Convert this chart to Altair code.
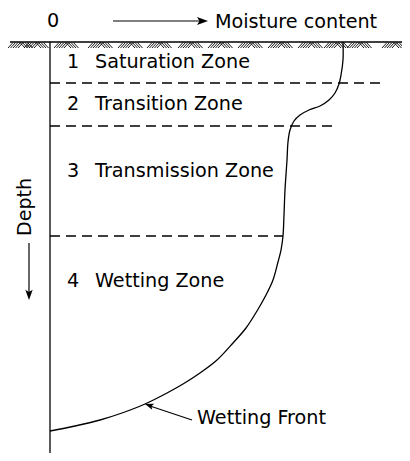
import altair as alt
import pandas as pd

# ---- values (diagram units: moisture offset from the depth axis,
#      depth below the ground surface) ----
curve_moisture = [293, 293, 291, 289, 285, 279, 270, 259, 250, 244, 240, 238, 237, 235, 234, 233,
                  231, 228, 223, 216, 207, 196, 183, 167, 150, 133, 117, 95, 72, 50, 25, 0]
curve_depth = [0, 18, 33, 42, 51, 58, 64, 68, 73, 79, 88, 100, 118, 148, 173, 194,
               208, 220, 238, 253, 269, 286, 301, 318, 331, 342, 351, 362, 371, 378, 384, 389]

zone_numbers = ["1", "2", "3", "4"]
zone_names = ["Saturation Zone", "Transition Zone", "Transmission Zone", "Wetting Zone"]
zone_label_depth = [26, 68, 135, 245]
zone_boundary_depth = [41, 84, 194]
zone_boundary_end = [335, 285, 233]

hatch_starts = [-42, -26, 4, 38, 68, 97, 128, 158, 188, 218, 248, 274, 297, 332]

X_DOM = [-42, 352]
Y_DOM = [-34, 411]
FONT = "DejaVu Sans"

xs = alt.Scale(domain=X_DOM)
ys = alt.Scale(domain=Y_DOM, reverse=True)


def X(f="x"):
    return alt.X(f"{f}:Q", scale=xs, axis=None)


def Y(f="y"):
    return alt.Y(f"{f}:Q", scale=ys, axis=None)


# ground surface and depth axis
frame_df = pd.DataFrame([
    {"x": -40, "x2": 352, "y": 0, "y2": 0, "w": 1.6},
    {"x": 0, "x2": 0, "y": 0, "y2": 411, "w": 1.3},
])
frame = alt.Chart(frame_df).mark_rule(color="black").encode(
    x=X(), x2="x2:Q", y=Y(), y2="y2:Q",
    strokeWidth=alt.StrokeWidth("w:Q", scale=None))

# ground hatching
hatch_rows = []
for s in hatch_starts:
    for i in range(5):
        o = s + i * 2.5
        hatch_rows.append({"x": o, "x2": o + 5, "y": 6, "y2": 0.5})
    for i in range(4):
        o = s + 12 + i * 2.5
        hatch_rows.append({"x": o, "x2": o + 5, "y": 0.5, "y2": 6})
hatch = alt.Chart(pd.DataFrame(hatch_rows)).mark_rule(color="black", strokeWidth=0.9).encode(
    x=X(), x2="x2:Q", y=Y(), y2="y2:Q")

# zone boundaries
bound_df = pd.DataFrame({"y": zone_boundary_depth, "x": [0] * 3, "x2": zone_boundary_end})
bounds = alt.Chart(bound_df).mark_rule(color="black", strokeWidth=1.3, strokeDash=[10, 6]).encode(
    x=X(), x2="x2:Q", y=Y())

# moisture profile curve
curve_df = pd.DataFrame({"x": curve_moisture, "y": curve_depth, "i": range(len(curve_depth))})
curve = alt.Chart(curve_df).mark_line(color="black", strokeWidth=1.3, interpolate="catmull-rom").encode(
    x=X(), y=Y(), order="i:Q")

# arrow shafts
shaft_df = pd.DataFrame([
    {"x": 63, "x2": 152, "y": -21, "y2": -21},
    {"x": -21, "x2": -21, "y": 201, "y2": 252},
    {"x": 142, "x2": 100, "y": 378, "y2": 364},
])
shafts = alt.Chart(shaft_df).mark_rule(color="black", strokeWidth=1.2).encode(
    x=X(), x2="x2:Q", y=Y(), y2="y2:Q")

# arrow heads (tip at the point)
head_path = "M0,0 L-1,-0.36 L-0.78,0 L-1,0.36 Z"
head_df = pd.DataFrame([
    {"x": 158, "y": -21, "a": 0, "s": 484},
    {"x": -21, "y": 258, "a": 90, "s": 420},
    {"x": 95, "y": 362, "a": 198.8, "s": 300},
])
heads = alt.Chart(head_df).mark_point(shape=head_path, filled=True, color="black", opacity=1,
                                      strokeWidth=0).encode(
    x=X(), y=Y(),
    angle=alt.Angle("a:Q", scale=None),
    size=alt.Size("s:Q", scale=None))

# texts
label_df = pd.DataFrame(
    [{"x": -3, "y": -15, "t": "0"},
     {"x": 165, "y": -14, "t": "Moisture content"},
     {"x": 147, "y": 382, "t": "Wetting Front"}]
    + [{"x": 17, "y": d, "t": n} for n, d in zip(zone_numbers, zone_label_depth)]
    + [{"x": 45, "y": d, "t": n} for n, d in zip(zone_names, zone_label_depth)]
)
labels = alt.Chart(label_df).mark_text(
    align="left", baseline="alphabetic", font=FONT, fontSize=19.2, color="black").encode(
    x=X(), y=Y(), text="t:N")

depth_df = pd.DataFrame({"x": [-19], "y": [165], "t": ["Depth"]})
depth_label = alt.Chart(depth_df).mark_text(
    align="center", baseline="alphabetic", font=FONT, fontSize=19, angle=270, color="black").encode(
    x=X(), y=Y(), text="t:N")

chart = alt.layer(frame, hatch, bounds, curve, shafts, heads, labels,
                  depth_label).properties(
    width=394, height=445, padding=0,
    autosize=alt.AutoSizeParams(type="none"),
    background="white",
).configure_view(stroke=None)

chart.save("out.html", embed_options={"renderer": "svg", "actions": False})
